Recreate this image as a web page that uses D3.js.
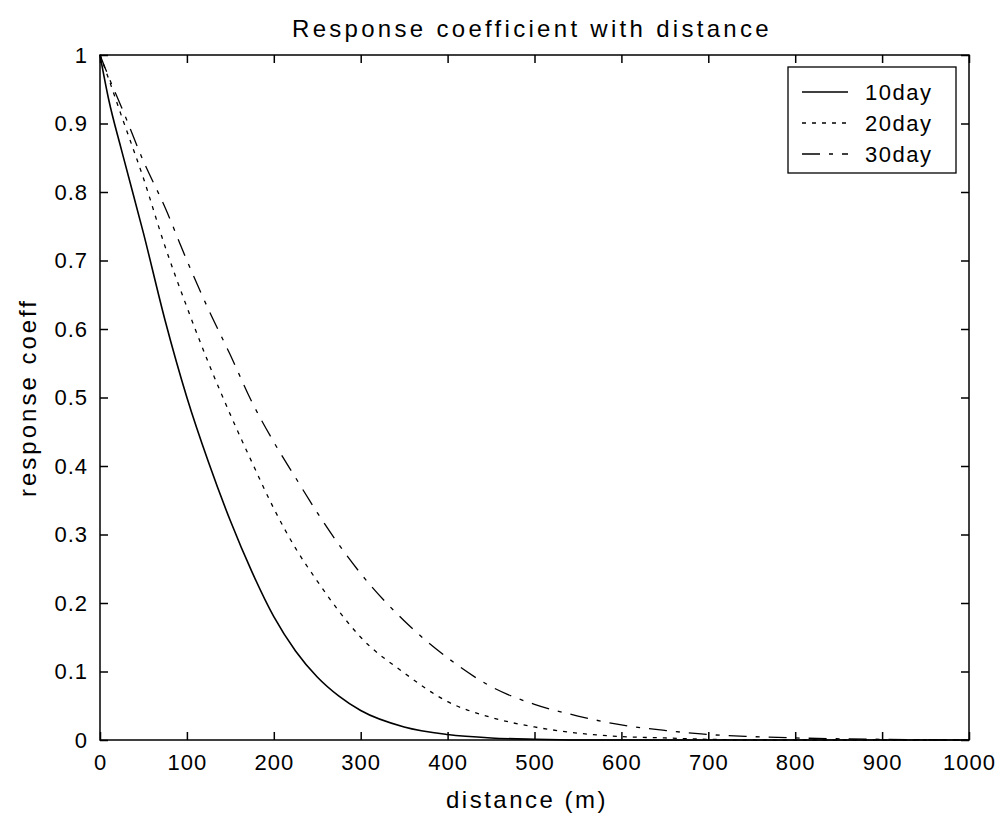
<!DOCTYPE html>
<html>
<head>
<meta charset="utf-8">
<script src="https://cdn.jsdelivr.net/npm/d3@7"></script>
<style>
body { margin: 0; background: #fff; }
text { font-family: "Liberation Sans", Arial, sans-serif; fill: #000; }
</style>
</head>
<body>
<script>
/* response coefficient vs distance */
var distance = [0, 10, 25, 50, 75, 100, 125, 150, 175, 200, 225, 250, 275, 300, 350, 400, 450, 500, 550, 600, 650, 700, 750, 800, 900, 1000];
var day10 = [1, 0.935, 0.86, 0.74, 0.612, 0.50, 0.405, 0.32, 0.245, 0.18, 0.13, 0.092, 0.064, 0.043, 0.019, 0.008, 0.003, 0.001, 0, 0, 0, 0, 0, 0, 0, 0];
var day20 = [1, 0.965, 0.91, 0.82, 0.72, 0.632, 0.55, 0.475, 0.405, 0.338, 0.28, 0.232, 0.188, 0.150, 0.098, 0.056, 0.033, 0.019, 0.010, 0.005, 0.003, 0.001, 0, 0, 0, 0];
var day30 = [1, 0.968, 0.923, 0.845, 0.777, 0.70, 0.628, 0.562, 0.493, 0.435, 0.383, 0.332, 0.285, 0.243, 0.174, 0.12, 0.078, 0.052, 0.035, 0.022, 0.014, 0.008, 0.005, 0.003, 0.001, 0];
var seriesNames = ["10day", "20day", "30day"];
var xTicks = [0, 100, 200, 300, 400, 500, 600, 700, 800, 900, 1000];
var yTicks = [0, 0.1, 0.2, 0.3, 0.4, 0.5, 0.6, 0.7, 0.8, 0.9, 1];

var width = 1001, height = 819;
// plot box (note: "top" is taken by window.top)
var pLeft = 100, pRight = 969, pTop = 55, pBottom = 740;

var svg = d3.select("body").append("svg").attr("width", width).attr("height", height);

var x = d3.scaleLinear().domain([0, 1000]).range([pLeft, pRight]);
var y = d3.scaleLinear().domain([0, 1]).range([pBottom, pTop]);

// axes, matlab style ticks inside on all sides
var tk = 8;
svg.append("g").attr("transform", "translate(0," + pBottom + ")")
  .call(d3.axisBottom(x).tickValues(xTicks).tickSize(-tk).tickPadding(tk + 6).tickFormat(d3.format("d")))
  .call(function(g){ g.select(".domain").remove(); });
svg.append("g").attr("transform", "translate(0," + pTop + ")")
  .call(d3.axisTop(x).tickValues(xTicks).tickSize(-tk).tickFormat(""))
  .call(function(g){ g.select(".domain").remove(); });
svg.append("g").attr("transform", "translate(" + pLeft + ",0)")
  .call(d3.axisLeft(y).tickValues(yTicks).tickSize(-tk).tickPadding(tk + 4).tickFormat(function(d){ return d === 0 || d === 1 ? d : d3.format(".1f")(d); }))
  .call(function(g){ g.select(".domain").remove(); });
svg.append("g").attr("transform", "translate(" + pRight + ",0)")
  .call(d3.axisRight(y).tickValues(yTicks).tickSize(-tk).tickFormat(""))
  .call(function(g){ g.select(".domain").remove(); });

svg.selectAll(".tick line").attr("stroke", "#000").attr("stroke-width", 1.5);
svg.selectAll(".tick text").attr("font-size", "22px").attr("letter-spacing", "1px")
  .attr("font-family", "Liberation Sans, Arial, sans-serif").attr("fill", "#000");

// box
svg.append("rect").attr("x", pLeft).attr("y", pTop).attr("width", pRight - pLeft).attr("height", pBottom - pTop)
  .attr("fill", "none").attr("stroke", "#000").attr("stroke-width", 1.5);

// curves
var dashes = [null, "4,6", "18,9,4,9"];
var data = [day10, day20, day30];
var line = d3.line().x(function(d){ return x(d[0]); }).y(function(d){ return y(d[1]); }).curve(d3.curveMonotoneX);
data.forEach(function(vals, i){
  svg.append("path")
    .datum(distance.map(function(d, j){ return [d, vals[j]]; }))
    .attr("d", line).attr("fill", "none").attr("stroke", "#000")
    .attr("stroke-width", i === 0 ? 1.6 : 1.3)
    .attr("stroke-dasharray", dashes[i]);
});

// title and labels
svg.append("text").attr("x", 532).attr("y", 37).attr("text-anchor", "middle")
  .attr("font-size", "24px").attr("letter-spacing", "3.3px").text("Response coefficient with distance");
svg.append("text").attr("x", 527).attr("y", 808).attr("text-anchor", "middle")
  .attr("font-size", "24px").attr("letter-spacing", "2.5px").text("distance (m)");
svg.append("text").attr("transform", "translate(36," + ((pTop + pBottom) / 2) + ") rotate(-90)")
  .attr("text-anchor", "middle").attr("font-size", "24px").attr("letter-spacing", "3px").text("response coeff");

// legend
var lg = svg.append("g").attr("transform", "translate(788,67)");
lg.append("rect").attr("width", 168).attr("height", 106).attr("fill", "#fff").attr("stroke", "#000").attr("stroke-width", 1.3);
seriesNames.forEach(function(name, i){
  var ly = 25 + i * 31;
  lg.append("line").attr("x1", 14).attr("x2", 60).attr("y1", ly).attr("y2", ly)
    .attr("stroke", "#000").attr("stroke-width", i === 0 ? 1.6 : 1.3).attr("stroke-dasharray", dashes[i]);
  lg.append("text").attr("x", 77).attr("y", ly + 8).attr("font-size", "22px").attr("letter-spacing", "1.5px").text(name);
});
</script>
</body>
</html>
